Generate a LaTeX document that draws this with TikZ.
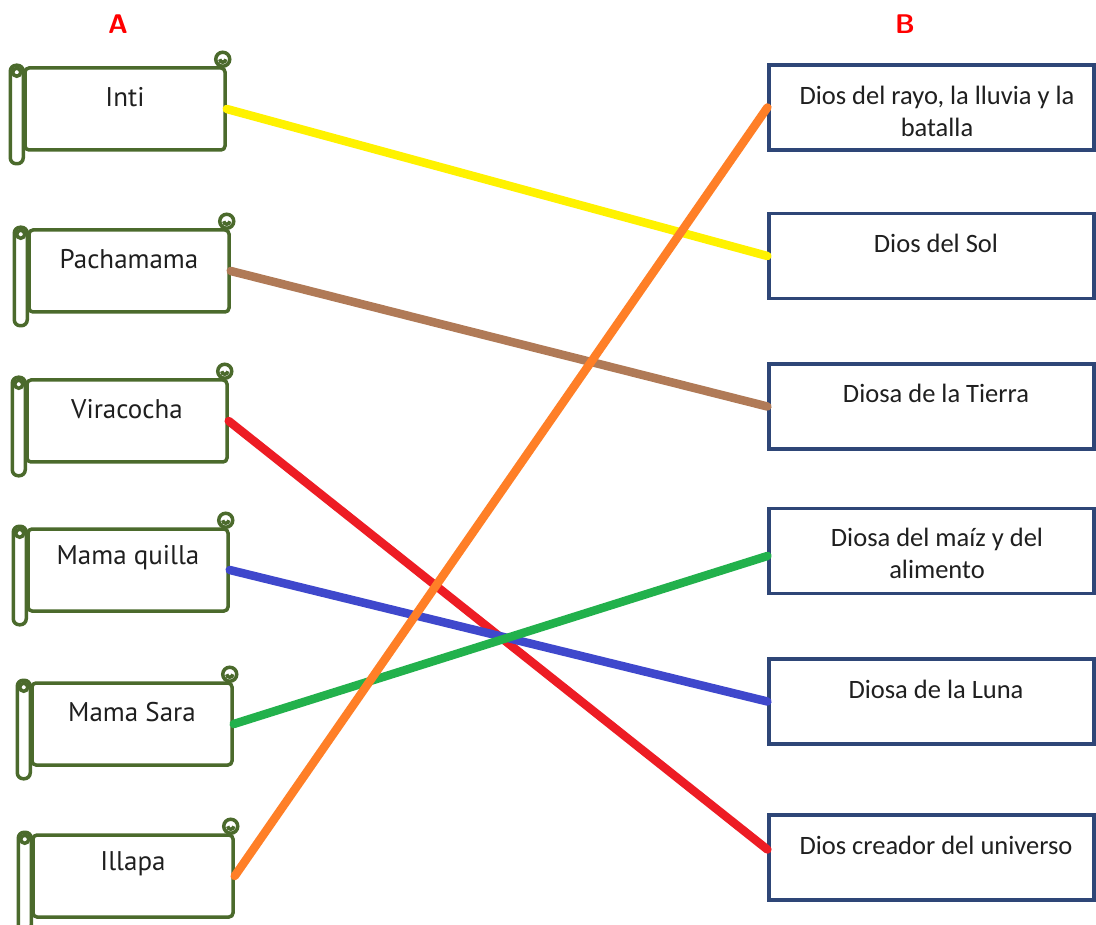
\documentclass[tikz,border=0pt]{standalone}
\usepackage{fontspec}
\setmainfont{Carlito}
\newfontfamily\scrollfont{PT Sans}
\definecolor{scrollgreen}{HTML}{4B6A2C}
\definecolor{boxblue}{HTML}{2E4677}
\definecolor{lyellow}{HTML}{FFF200}
\definecolor{lbrown}{HTML}{B07A57}
\definecolor{lred}{HTML}{ED1C24}
\definecolor{lblue}{HTML}{3F48CC}
\definecolor{lgreen}{HTML}{22B14C}
\definecolor{lorange}{HTML}{FF7F27}
\tikzset{
  scrollline/.style={draw=scrollgreen,line width=3.5pt},
  scrollbody/.style={scrollline,fill=white,rounded corners=4pt,minimum width=200pt,minimum height=82pt,inner sep=0pt},
  scrolltext/.style={font=\scrollfont\fontsize{27}{30}\selectfont,text=black!88},
  rbox/.style={draw=boxblue,line width=3.2pt,fill=white,minimum width=325pt,minimum height=85pt,inner sep=0pt},
  rtext/.style={font=\fontsize{26.5}{32}\selectfont,align=center,text=black!88},
  head/.style={font=\sffamily\bfseries\fontsize{27}{29}\selectfont,text=red},
  link/.style={line width=8.5pt,line cap=round}
}
\newcommand\scrollbox[4]{%
  \node[scrollbody] (#1) at (#2,#3) {};
  \draw[scrollline,fill=white,rounded corners=6pt] ([xshift=-13pt,yshift=1pt]#1.north west) rectangle ([yshift=-12pt]#1.south west);
  \draw[scrollline] ([xshift=-6.5pt,yshift=-6pt]#1.north west) circle (4pt);
  \draw[scrollline,fill=white] ([xshift=-4pt,yshift=7pt]#1.north east) circle (7pt);
  \draw[scrollline] ([xshift=-4pt,yshift=7pt]#1.north east) ++(-3pt,0) arc (180:360:3pt);
  \node[scrolltext] (#1t) at ([yshift=12pt]#1.center) {#4};
}
\begin{document}
\begin{tikzpicture}[x=1pt,y=-1pt]
\useasboundingbox[fill=white] (0,0) rectangle (1096,925);
\node[head] (hA) at (118,24) {A};
\node[head] (hB) at (905,24) {B};
% scrolls
\scrollbox{inti}{125}{109}{Inti}
\scrollbox{pacha}{129}{271}{Pachamama}
\scrollbox{vira}{127}{421}{Viracocha}
\scrollbox{quilla}{128}{570}{Mama quilla}
\scrollbox{sara}{132}{724}{Mama Sara}
\scrollbox{illapa}{133}{876}{Illapa}
% right boxes
\node[rbox] (rayo) at (931.5,107.5) {};
\node[rtext] at (937,111) {Dios del rayo, la lluvia y la\\batalla};
\node[rbox] (sol) at (931.5,256) {};
\node[rtext] at (936,243) {Dios del Sol};
\node[rbox] (tierra) at (931.5,406.5) {};
\node[rtext] at (936,393) {Diosa de la Tierra};
\node[rbox] (maiz) at (931.5,551) {};
\node[rtext] at (937,553) {Diosa del maíz y del\\alimento};
\node[rbox] (luna) at (931.5,701.5) {};
\node[rtext] at (936,689) {Diosa de la Luna};
\node[rbox] (univ) at (931.5,857.5) {};
\node[rtext] at (936,845) {Dios creador del universo};
% links
\draw[link,lyellow] (inti.east) -- (sol.west);
\draw[link,lbrown] (pacha.east) -- (tierra.west);
\draw[link,lred] (vira.east) -- ([yshift=8pt]univ.west);
\draw[link,lblue] (quilla.east) -- (luna.west);
\draw[link,lgreen] (sara.east) -- ([yshift=-5pt]maiz.west);
\draw[link,lorange] (illapa.east) -- (rayo.west);
\end{tikzpicture}
\end{document}
